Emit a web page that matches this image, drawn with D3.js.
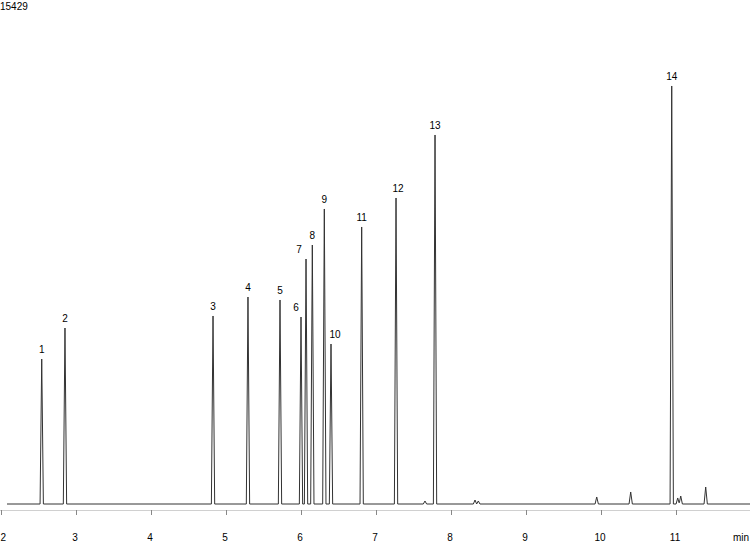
<!DOCTYPE html>
<html>
<head>
<meta charset="utf-8">
<script src="https://cdn.jsdelivr.net/npm/d3@7/dist/d3.min.js"></script>
<style>
html,body{margin:0;padding:0;background:#fff;}
svg{display:block;}
text{font-family:"Liberation Sans",Arial,sans-serif;font-size:10px;fill:#000;}
</style>
</head>
<body>
<svg id="chart" width="750" height="542"></svg>
<script>
// ---- data ----
const peakLabels = ["1","2","3","4","5","6","7","8","9","10","11","12","13","14"];
const peakTimes  = [2.543, 2.853, 4.827, 5.293, 5.72, 6.0, 6.067, 6.151, 6.311, 6.40, 6.809, 7.267, 7.787, 10.943];
const peakHeights= [4575, 5553, 5932, 6531, 6437, 5900, 7730, 8172, 9308, 5048, 8740, 9655, 11643, 13189];
const minorTimes   = [7.653, 8.32, 8.364, 9.943, 10.396, 11.023, 11.063, 11.396];
const minorHeights = [95, 126, 95, 221, 379, 190, 252, 536];
const xTicks = [2, 3, 4, 5, 6, 7, 8, 9, 10, 11];
const yMax = 15429;
const runStart = 2.08, runEnd = 12;

// ---- layout ----
const svg = d3.select("#chart");
const W = 750, H = 542;
const x = d3.scaleLinear().domain([2, 12]).range([1, 751]);
const y = d3.scaleLinear().domain([0, yMax]).range([504, 15]);
const halfWidth = 0.022; // peak half-width at base (min)

const peaks = peakTimes.map((t, i) => ({t, h: peakHeights[i]}))
  .concat(minorTimes.map((t, i) => ({t, h: minorHeights[i]})))
  .sort((a, b) => a.t - b.t);

const pts = [[runStart, 0]];
peaks.forEach(p => {
  pts.push([p.t - halfWidth, 0]);
  pts.push([p.t, p.h]);
  pts.push([p.t + halfWidth, 0]);
});
pts.push([runEnd, 0]);
pts.sort((a, b) => a[0] - b[0]);

function traceValue(t) {
  let v = 0;
  peaks.forEach(p => {
    const d = Math.abs(t - p.t);
    if (d < halfWidth) v = Math.max(v, p.h * (1 - d / halfWidth));
  });
  return v;
}
const tracePts = pts.map(p => [p[0], traceValue(p[0])]);

// axis line
svg.append("line")
  .attr("x1", 0).attr("x2", W)
  .attr("y1", 510.5).attr("y2", 510.5)
  .attr("stroke", "#d0d0d0").attr("stroke-width", 1);

// x axis ticks
const axis = d3.axisBottom(x).tickValues(xTicks).tickSize(5).tickFormat(d3.format("d"));
const gx = svg.append("g").attr("transform", "translate(0,510)").call(axis);
gx.select(".domain").remove();
gx.selectAll(".tick line").attr("stroke", "#888");
gx.selectAll(".tick text")
  .attr("y", 31).attr("dy", 0).attr("dx", -1.5)
  .style("font-family", '"Liberation Sans",Arial,sans-serif')
  .style("font-size", "10px").attr("fill", "#000");
// keep the first label inside the page
gx.selectAll(".tick text").filter(d => d === xTicks[0])
  .attr("text-anchor", "start").attr("dx", -1);

svg.append("text").attr("x", 749).attr("y", 541).attr("text-anchor", "end").text("min");

// y max label
svg.append("text").attr("x", 0).attr("y", 10).text(yMax);

// trace
const line = d3.line().x(d => x(d[0])).y(d => y(d[1]));
svg.append("path")
  .datum(tracePts)
  .attr("d", line)
  .attr("fill", "none")
  .attr("stroke", "#333")
  .attr("stroke-width", 1);

// peak labels
const labelNudge = {"6": -5, "7": -7, "10": 4, "12": 2};
svg.selectAll("text.plabel")
  .data(peakLabels)
  .enter().append("text")
  .attr("class", "plabel")
  .attr("text-anchor", "middle")
  .attr("x", (d, i) => x(peakTimes[i]) + (labelNudge[d] || 0))
  .attr("y", (d, i) => y(peakHeights[i]) - 6)
  .text(d => d);
</script>
</body>
</html>
